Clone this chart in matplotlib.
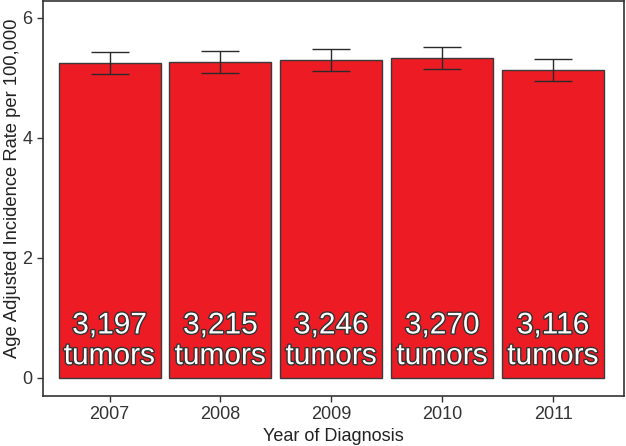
import matplotlib
matplotlib.use("Agg")
import matplotlib.pyplot as plt
import matplotlib.patheffects as pe

years = ["2007", "2008", "2009", "2010", "2011"]
rates = [5.25, 5.26, 5.30, 5.33, 5.13]
lower = [5.07, 5.08, 5.12, 5.15, 4.95]
upper = [5.43, 5.44, 5.48, 5.52, 5.32]
counts = ["3,197", "3,215", "3,246", "3,270", "3,116"]

plt.rcParams['font.family'] = ['Liberation Sans', 'DejaVu Sans']

fig = plt.figure(figsize=(6.26, 4.46), dpi=100)
ax = fig.add_axes([43/626, 50/446, (624-43)/626, (396-1)/446])

x = list(range(len(years)))
ax.bar(x, rates, width=0.92, color='#ED1C24', edgecolor='#3a3a3a', linewidth=1.0, zorder=2)
yerr = [[r - l for r, l in zip(rates, lower)], [u - r for r, u in zip(rates, upper)]]
ax.errorbar(x, rates, yerr=yerr, fmt='none', ecolor='#2a2a2a', elinewidth=1.0, capsize=14, capthick=1.0, zorder=3)

for xi, c in zip(x, counts):
    ax.text(xi, 0.62, c + "\ntumors", ha='center', va='center', fontsize=21.5, color='white',
            linespacing=1.12, zorder=4,
            path_effects=[pe.withStroke(linewidth=2.0, foreground='#333333')])

ax.set_xlim(-0.6, 4.64)
ax.set_ylim(-0.3, 6.28)
ax.set_xticks(x)
ax.set_xticklabels(years)
ax.set_yticks([0, 2, 4, 6])
ax.tick_params(axis='both', direction='out', length=4, width=1, color='#333333', labelsize=13, labelcolor='#333333')
for s in ax.spines.values():
    s.set_color('#333333')
    s.set_linewidth(1.2)
ax.set_xlabel("Year of Diagnosis", fontsize=13, color='#222222', labelpad=3)
ax.set_ylabel("Age Adjusted Incidence Rate per 100,000", fontsize=13.2, color='#222222')
ax.yaxis.set_label_coords(-0.038, 0.527)

fig.savefig("out.png", dpi=100)
